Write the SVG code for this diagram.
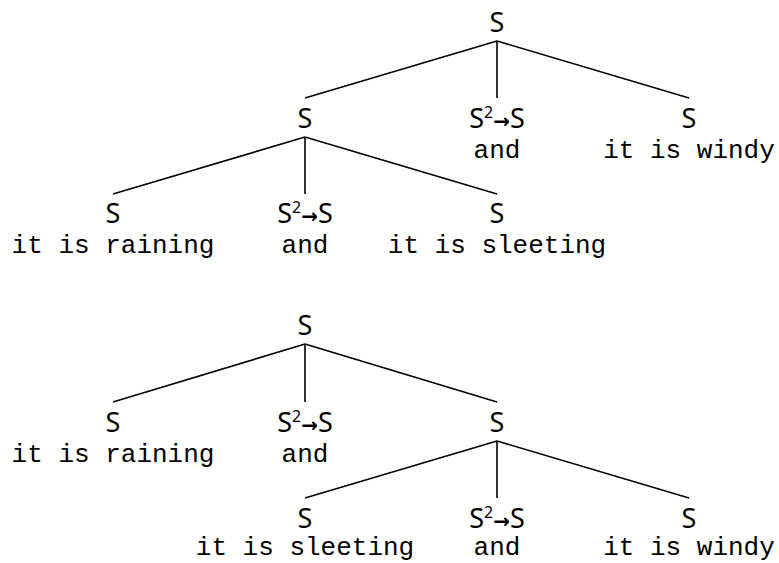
<svg xmlns="http://www.w3.org/2000/svg" width="779" height="563" viewBox="0 0 779 563">
<style>
.s{font-family:"Noto Sans","Open Sans",sans-serif;font-size:27px;fill:#000;text-anchor:middle}
.sup{font-size:16px}
.arr{font-family:"DejaVu Sans",sans-serif;font-weight:bold;font-size:20px}
.w{font-family:"Liberation Mono","Courier New",monospace;font-size:26px;fill:#000;text-anchor:middle}
.e{stroke:#000;stroke-width:1.6;fill:none}
</style>
<rect width="779" height="563" fill="#fff"/>
<g id="connectors">
<line class="e" x1="497" y1="41" x2="305" y2="98"/>
<line class="e" x1="497" y1="41" x2="497" y2="98"/>
<line class="e" x1="497" y1="41" x2="689" y2="98"/>
<line class="e" x1="305" y1="137" x2="113" y2="194"/>
<line class="e" x1="305" y1="137" x2="305" y2="194"/>
<line class="e" x1="305" y1="137" x2="497" y2="194"/>
<line class="e" x1="305" y1="344" x2="113" y2="402"/>
<line class="e" x1="305" y1="344" x2="305" y2="402"/>
<line class="e" x1="305" y1="344" x2="497" y2="402"/>
<line class="e" x1="497" y1="441" x2="305" y2="498"/>
<line class="e" x1="497" y1="441" x2="497" y2="498"/>
<line class="e" x1="497" y1="441" x2="689" y2="498"/>
</g>
<g id="t1-root"><text class="s" x="497" y="32">S</text></g>
<g id="t1-s1"><text class="s" x="305" y="128">S</text></g>
<g id="t1-conj"><text class="s" x="497" y="128">S<tspan class="sup" dy="-10">2</tspan><tspan class="arr" dy="10">→</tspan>S</text><text class="w" x="497" y="158">and</text></g>
<g id="t1-windy"><text class="s" x="689" y="128">S</text><text class="w" x="689" y="158">it is windy</text></g>
<g id="t1-raining"><text class="s" x="113" y="223">S</text><text class="w" x="113" y="253">it is raining</text></g>
<g id="t1-conj2"><text class="s" x="305" y="223">S<tspan class="sup" dy="-10">2</tspan><tspan class="arr" dy="10">→</tspan>S</text><text class="w" x="305" y="253">and</text></g>
<g id="t1-sleeting"><text class="s" x="497" y="223">S</text><text class="w" x="497" y="253">it is sleeting</text></g>
<g id="t2-root"><text class="s" x="305" y="335">S</text></g>
<g id="t2-raining"><text class="s" x="113" y="432">S</text><text class="w" x="113" y="462">it is raining</text></g>
<g id="t2-conj"><text class="s" x="305" y="432">S<tspan class="sup" dy="-10">2</tspan><tspan class="arr" dy="10">→</tspan>S</text><text class="w" x="305" y="462">and</text></g>
<g id="t2-s2"><text class="s" x="497" y="432">S</text></g>
<g id="t2-sleeting"><text class="s" x="305" y="528">S</text><text class="w" x="305" y="555">it is sleeting</text></g>
<g id="t2-conj2"><text class="s" x="497" y="528">S<tspan class="sup" dy="-10">2</tspan><tspan class="arr" dy="10">→</tspan>S</text><text class="w" x="497" y="555">and</text></g>
<g id="t2-windy"><text class="s" x="689" y="528">S</text><text class="w" x="689" y="555">it is windy</text></g>
</svg>
